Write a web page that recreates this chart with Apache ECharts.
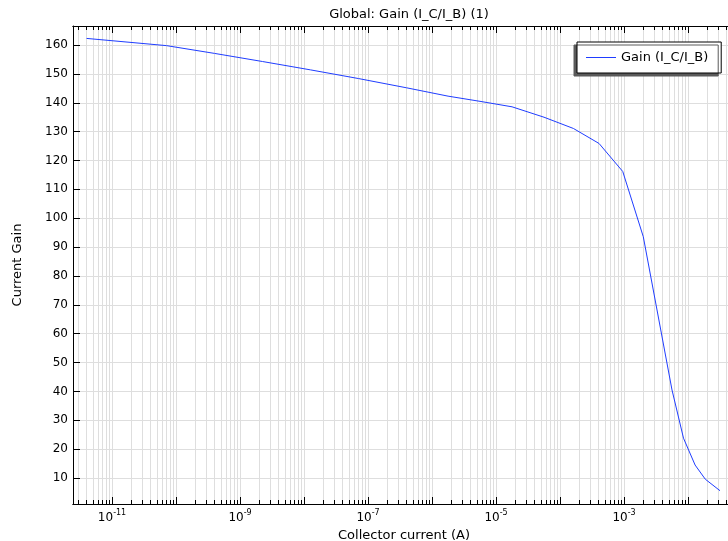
<!DOCTYPE html>
<html lang="en">
<head>
<meta charset="utf-8"/>
<title>Global: Gain (I_C/I_B) (1)</title>
<script src="https://cdn.jsdelivr.net/npm/echarts@6/dist/echarts.min.js"></script>
<style>
    html, body { margin: 0; padding: 0; background: #fff; }
    #main { width: 728px; height: 541px; }
</style>
</head>
<body>
<div id="main"></div>
<script>
// collector current (A) vs current gain
var current = [4.0e-12, 7.1e-11, 4.0e-10, 2.24e-9, 1.26e-8, 7.08e-8, 3.98e-7, 1.78e-6, 5.62e-6,
               1.78e-5, 5.62e-5, 1.62e-4, 4.07e-4, 9.55e-4, 2.0e-3, 5.62e-3, 8.5e-3, 1.29e-2,
               1.86e-2, 3.16e-2];
var gain = [162.3, 159.8, 157.1, 154.3, 151.4, 148.4, 145.2, 142.3, 140.5,
            138.6, 135.0, 131.1, 125.9, 116.2, 93.6, 40.5, 23.8, 14.5,
            9.6, 5.6];

// axis ticks
var yTicks = [10, 20, 30, 40, 50, 60, 70, 80, 90, 100, 110, 120, 130, 140, 150, 160];
var decades = [-12, -11, -10, -9, -8, -7, -6, -5, -4, -3, -2];
var labelDecades = [-11, -9, -7, -5, -3];

// x axis is drawn in log10 space
var XMIN = -11.61, XMAX = -1.266;
var YMIN = 1.0, YMAX = 166.6;

var minorTicks = [];
decades.forEach(function (d) {
    for (var k = 1; k <= 9; k++) {
        var v = d + Math.log10(k);
        if (v >= XMIN && v <= XMAX) minorTicks.push(v);
    }
});
var majorTicks = decades.filter(function (d) { return d >= XMIN && d <= XMAX; });

var seriesData = current.map(function (c, i) { return [Math.log10(c), gain[i]]; });

var FONT = 'DejaVu Sans';
var gridColor = '#dedede';
var lineColor = '#1f3dff';

function xAxisBase(pos) {
    return {
        type: 'value',
        position: pos,
        min: XMIN,
        max: XMAX,
        gridIndex: 0,
        axisLine: { show: true, onZero: false, lineStyle: { color: '#000', width: 1 } },
        axisLabel: { show: false },
        splitLine: { show: false }
    };
}

var xMinorBottom = xAxisBase('bottom');
xMinorBottom.axisTick = { show: true, inside: true, length: 4, customValues: minorTicks, lineStyle: { color: '#000' } };
xMinorBottom.splitLine = { show: true, lineStyle: { color: gridColor, width: 1 } };

var xMajorBottom = xAxisBase('bottom');
xMajorBottom.axisTick = { show: true, inside: true, length: 7, customValues: majorTicks, lineStyle: { color: '#000' } };
xMajorBottom.axisLabel = {
    show: true,
    customValues: labelDecades,
    margin: 5,
    formatter: function (v) { return '{b|10}{s|' + Math.round(v) + '}'; },
    rich: {
        b: { fontSize: 12, fontFamily: FONT, color: '#000', verticalAlign: 'bottom' },
        s: { fontSize: 8, fontFamily: FONT, color: '#000', verticalAlign: 'bottom', padding: [0, 0, 7, 0] }
    }
};
xMajorBottom.name = 'Collector current (A)';
xMajorBottom.nameLocation = 'middle';
xMajorBottom.nameGap = 18;
xMajorBottom.nameTextStyle = { fontSize: 13, fontFamily: FONT, color: '#000' };

var xMinorTop = xAxisBase('top');
xMinorTop.axisTick = { show: true, inside: true, length: 4, customValues: minorTicks, lineStyle: { color: '#000' } };

var xMajorTop = xAxisBase('top');
xMajorTop.axisTick = { show: true, inside: true, length: 7, customValues: majorTicks, lineStyle: { color: '#000' } };

var chart = echarts.init(document.getElementById('main'), null, { renderer: 'canvas' });
var option = {
    animation: false,
    backgroundColor: '#fff',
    title: {
        text: 'Global: Gain (I_C/I_B) (1)',
        left: 404,
        top: 3,
        textAlign: 'center',
        textStyle: { fontSize: 13, fontWeight: 'normal', fontFamily: FONT, color: '#000' }
    },
    legend: {
        data: [{ name: 'Gain (I_C/I_B)', icon: 'rect' }],
        left: 577,
        top: 42,
        padding: [9, 13, 9, 9],
        itemWidth: 30,
        itemHeight: 1,
        backgroundColor: '#fff',
        borderColor: '#000',
        borderWidth: 1,
        borderRadius: 0,
        shadowColor: '#5a5a5a',
        shadowBlur: 0,
        shadowOffsetX: -3,
        shadowOffsetY: 3,
        itemStyle: { color: lineColor, borderWidth: 0 },
        textStyle: { fontSize: 13, fontFamily: FONT, color: '#000', lineHeight: 13 }
    },
    grid: {
        left: 73,
        right: -7,
        top: 26,
        bottom: 37,
        containLabel: false,
        outerBoundsMode: 'none'
    },
    xAxis: [xMinorBottom, xMajorBottom, xMinorTop, xMajorTop],
    yAxis: [{
        type: 'value',
        position: 'left',
        min: YMIN,
        max: YMAX,
        axisLine: { show: true, onZero: false, lineStyle: { color: '#000', width: 1 } },
        axisTick: { show: true, inside: true, length: 7, customValues: yTicks, lineStyle: { color: '#000' } },
        axisLabel: { show: true, customValues: yTicks, margin: 5, fontSize: 12, fontFamily: FONT, color: '#000' },
        splitLine: { show: true, lineStyle: { color: gridColor, width: 1 } },
        name: 'Current Gain',
        nameLocation: 'middle',
        nameRotate: 90,
        nameGap: 49,
        nameTextStyle: { fontSize: 13, fontFamily: FONT, color: '#000' }
    }],
    series: [{
        name: 'Gain (I_C/I_B)',
        type: 'line',
        xAxisIndex: 0,
        yAxisIndex: 0,
        symbol: 'none',
        showSymbol: false,
        lineStyle: { color: lineColor, width: 1 },
        itemStyle: { color: lineColor },
        data: seriesData
    }]
};
chart.setOption(option);
</script>
</body>
</html>
